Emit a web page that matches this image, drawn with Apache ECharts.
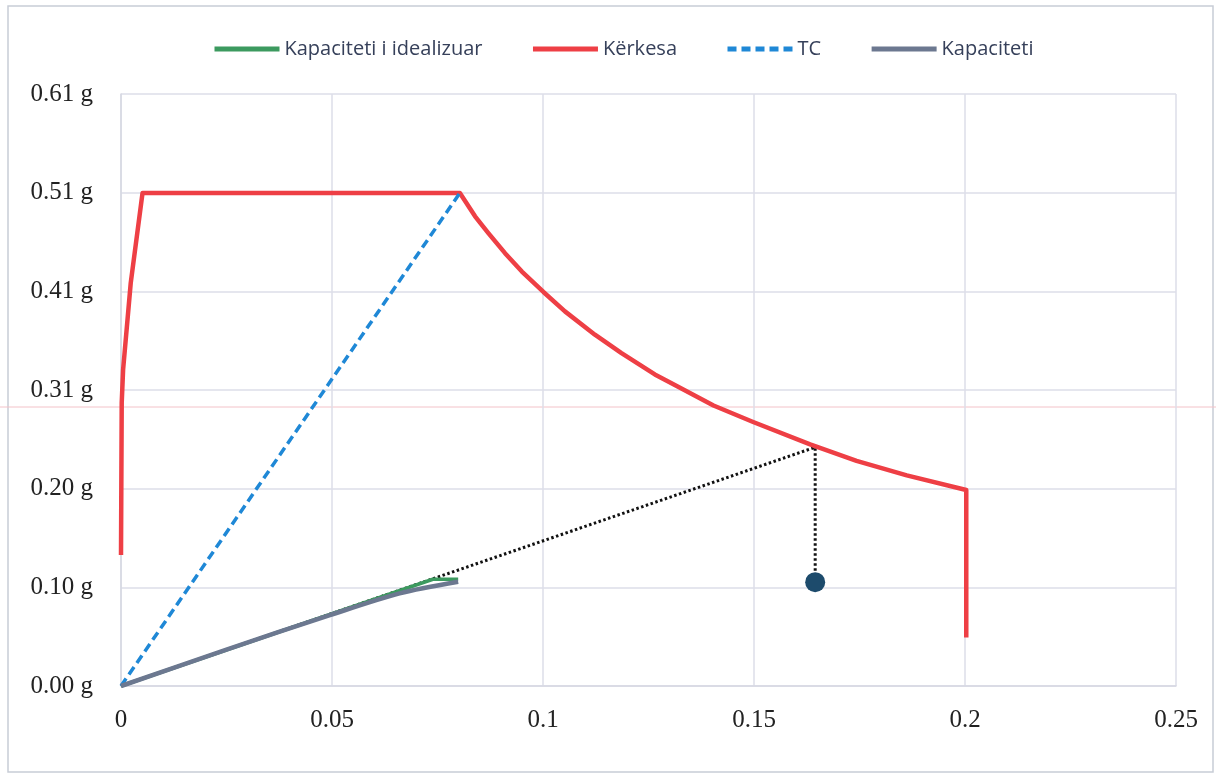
<!DOCTYPE html>
<html><head><meta charset="utf-8">
<script src="https://cdn.jsdelivr.net/npm/echarts@6/dist/echarts.min.js"></script>
<style>html,body{margin:0;padding:0;background:#fff}#c{width:1216px;height:774px}</style>
</head><body><div id="c"></div>
<script>
// Kërkesa (demand spectrum, Sd vs Sa)
const demandX = [0, 0.00017, 0.0005, 0.0023, 0.0051, 0.0803, 0.0839, 0.0870, 0.0910, 0.0950, 0.1001, 0.1052, 0.1123, 0.1186, 0.1265, 0.1309, 0.1404, 0.1498, 0.1633, 0.1743, 0.1862, 0.2003, 0.2003];
const demandY = [0.135, 0.292, 0.326, 0.415, 0.508, 0.508, 0.484, 0.467, 0.446, 0.427, 0.406, 0.386, 0.362, 0.343, 0.321, 0.311, 0.289, 0.272, 0.249, 0.232, 0.217, 0.202, 0.050];
// TC line
const tcX = [0, 0.0803];
const tcY = [0, 0.508];
// Kapaciteti
const capX = [0, 0.025, 0.0495, 0.066, 0.0799];
const capY = [0, 0.0375, 0.073, 0.0955, 0.1075];
// Kapaciteti i idealizuar
const idealX = [0, 0.0739, 0.0799];
const idealY = [0, 0.110, 0.110];
// dotted construction line and performance point
const dottedX = [0, 0.1645, 0.1645];
const dottedY = [0, 0.246, 0.108];
const pointX = [0.1645];
const pointY = [0.107];
// tick labels
const yTickLabels = ['0.00 g', '0.10 g', '0.20 g', '0.31 g', '0.41 g', '0.51 g', '0.61 g'];
const xTickLabels = ['0', '0.05', '0.1', '0.15', '0.2', '0.25'];
const legendNames = ['Kapaciteti i idealizuar', 'Kërkesa', 'TC', 'Kapaciteti'];

const yMax = 0.61, yStep = 0.61 / 6, xStep = 0.05;
const zip = (xs, ys) => xs.map((x, i) => [x, ys[i]]);

const chart = echarts.init(document.getElementById('c'), null, {renderer: 'canvas'});
chart.setOption({
  animation: false,
  backgroundColor: '#ffffff',
  graphic: [
    {type: 'rect', shape: {x: 8, y: 6, width: 1205, height: 766}, style: {fill: 'none', stroke: '#c8cdd6', lineWidth: 1.5}, silent: true, z: -1},
    {type: 'line', shape: {x1: 0, y1: 407, x2: 1216, y2: 407}, style: {stroke: '#f3c2c8', lineWidth: 1}, silent: true, z: -1}
  ],
  legend: {
    data: legendNames,
    top: 34,
    left: 207,
    itemWidth: 65,
    itemHeight: 5,
    itemGap: 48,
    itemStyle: {opacity: 0},
    lineStyle: {width: 5},
    textStyle: {fontFamily: 'Open Sans, sans-serif', fontSize: 20, color: '#36405a'}
  },
  grid: {left: 121, right: 40, top: 94, bottom: 88},
  xAxis: {
    type: 'value', min: 0, max: 0.25, interval: xStep,
    axisLine: {show: true, lineStyle: {color: '#d6d8e2', width: 1.5}},
    axisTick: {show: false},
    splitLine: {show: true, lineStyle: {color: '#dcdee8', width: 1.5}},
    axisLabel: {
      margin: 22, color: '#222', fontFamily: 'Liberation Serif, DejaVu Serif, serif', fontSize: 25,
      formatter: v => xTickLabels[Math.round(v / xStep)]
    }
  },
  yAxis: {
    type: 'value', min: 0, max: yMax, interval: yStep,
    axisLine: {show: true, lineStyle: {color: '#d6d8e2', width: 1.5}},
    axisTick: {show: false},
    splitLine: {show: true, lineStyle: {color: '#dcdee8', width: 1.5}},
    axisLabel: {
      margin: 28, color: '#222', fontFamily: 'Liberation Serif, DejaVu Serif, serif', fontSize: 25,
      formatter: v => yTickLabels[Math.round(v / yStep)]
    }
  },
  series: [
    {name: 'Kapaciteti i idealizuar', type: 'line', data: zip(idealX, idealY), symbol: 'none',
     lineStyle: {color: '#3c9a5f', width: 3.5}, itemStyle: {color: '#3c9a5f'}, z: 2},
    {name: 'Kërkesa', type: 'line', data: zip(demandX, demandY), symbol: 'none',
     lineStyle: {color: '#ee3f45', width: 4.5, join: 'round'}, itemStyle: {color: '#ee3f45'}, z: 3},
    {name: 'TC', type: 'line', data: zip(tcX, tcY), symbol: 'none',
     lineStyle: {color: '#1f88d6', width: 3.5, type: [9, 5]}, itemStyle: {color: '#1f88d6'}, z: 4},
    {name: 'Kapaciteti', type: 'line', data: zip(capX, capY), symbol: 'none', smooth: 0.3,
     lineStyle: {color: '#6c7890', width: 4.5}, itemStyle: {color: '#6c7890'}, z: 5},
    {name: 'dotted', type: 'line', data: zip(dottedX, dottedY), symbol: 'none',
     lineStyle: {color: '#111', width: 3, type: [2.5, 2.5]}, z: 1},
    {name: 'point', type: 'scatter', data: zip(pointX, pointY), symbol: 'circle', symbolSize: 20,
     itemStyle: {color: '#1d4b6c', opacity: 1}, z: 6}
  ]
});
</script></body></html>
